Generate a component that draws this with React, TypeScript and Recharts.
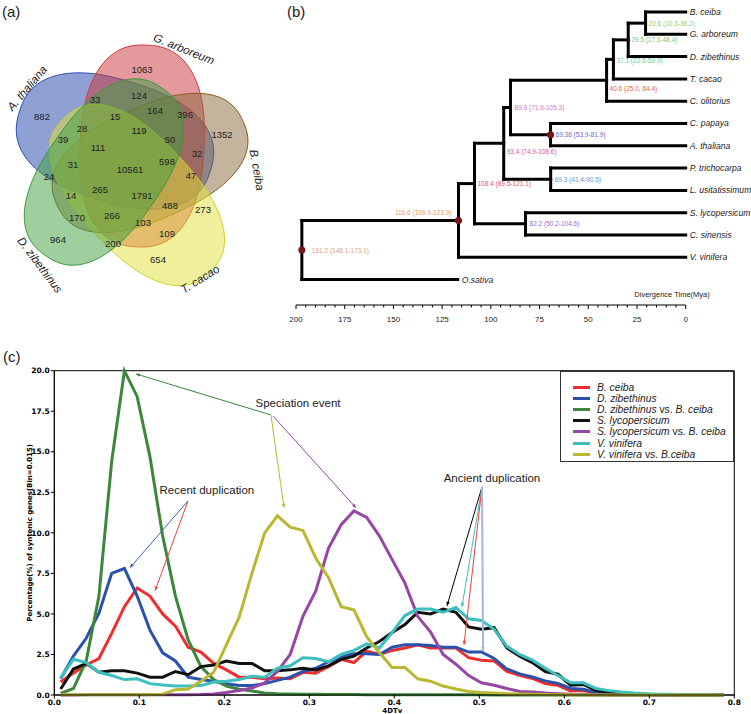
import React from "react";
import {
  LineChart,
  Line,
  XAxis,
  YAxis,
  ReferenceLine,
  ReferenceArea,
  ReferenceDot,
  ScatterChart,
  Scatter,
  ComposedChart,
  Label,
} from "recharts";

const FONT = "'Liberation Sans', Arial, sans-serif";

// ---------------- (a) Venn data ----------------
const vennSets = ["A. thaliana", "G. arboreum", "B. ceiba", "T. cacao", "D. zibethinus"];
const vennCounts = [
  1063, 33, 124, 882, 164, 396, 15, 39, 28, 119, 50, 1352, 111, 32, 31, 10561, 598, 47, 24, 14,
  265, 1791, 488, 273, 170, 266, 103, 109, 964, 200, 654,
];

// ---------------- (b) tree data ----------------
const leaves = [
  "B. ceiba",
  "G. arboreum",
  "D. zibethinus",
  "T. cacao",
  "C. olitorius",
  "C. papaya",
  "A. thaliana",
  "P. trichocarpa",
  "L. usitatissimum",
  "S. lycopersicum",
  "C. sinensis",
  "V. vinifera",
  "O.sativa",
];
const leafAges = [0, 0, 0, 0, 0, 0, 0, 0, 0, 0, 0, 0, 117];
const clades = [
  { id: "n1", age: 20.6, kids: ["B. ceiba", "G. arboreum"], label: "20.6 (10.3-36.2)" },
  { id: "n2", age: 29.5, kids: ["n1", "D. zibethinus"], label: "29.5 (17.1-48.4)" },
  { id: "n3", age: 37.1, kids: ["n2", "T. cacao"], label: "37.1 (22.6-59.9)" },
  { id: "n4", age: 40.6, kids: ["n3", "C. olitorius"], label: "40.6 (25.0, 64.4)" },
  { id: "n5", age: 69.36, kids: ["C. papaya", "A. thaliana"], label: "69.36 (53.9-81.9)" },
  { id: "n6", age: 89.9, kids: ["n4", "n5"], label: "89.9 (71.6-105.3)" },
  { id: "n7", age: 69.3, kids: ["P. trichocarpa", "L. usitatissimum"], label: "69.3 (41.4-90.5)" },
  { id: "n8", age: 93.4, kids: ["n6", "n7"], label: "93.4 (74.9-108.6)" },
  { id: "n9", age: 82.2, kids: ["S. lycopersicum", "C. sinensis"], label: "82.2 (50.2-104.6)" },
  { id: "n10", age: 108.4, kids: ["n8", "n9"], label: "108.4 (89.5-121.1)" },
  { id: "n11", age: 116.6, kids: ["n10", "V. vinifera"], label: "116.6 (109.9-123.9)" },
  { id: "root", age: 197, kids: ["n11", "O.sativa"], label: "161.2 (148.1-173.1)" },
];
const treeTicks = [
  200, 195, 190, 185, 180, 175, 170, 165, 160, 155, 150, 145, 140, 135, 130, 125, 120, 115, 110,
  105, 100, 95, 90, 85, 80, 75, 70, 65, 60, 55, 50, 45, 40, 35, 30, 25, 20, 15, 10, 5, 0,
];

// ---------------- (c) 4DTv data ----------------
const dtv = [
  0.0075, 0.0225, 0.0375, 0.0525, 0.0675, 0.0825, 0.0975, 0.1125, 0.1275, 0.1425, 0.1575, 0.1725,
  0.1875, 0.2025, 0.2175, 0.2325, 0.2475, 0.2625, 0.2775, 0.2925, 0.3075, 0.3225, 0.3375, 0.3525,
  0.3675, 0.3825, 0.3975, 0.4125, 0.4275, 0.4425, 0.4575, 0.4725, 0.4875, 0.5025, 0.5175, 0.5325,
  0.5475, 0.5625, 0.5775, 0.5925, 0.6075, 0.6225, 0.6375, 0.6525, 0.6675, 0.6825, 0.6975, 0.7125,
  0.7275, 0.7425, 0.7575, 0.7725, 0.7875,
];
const bCeiba = [
  0.8, 1.35, 1.85, 2.25, 3.8, 5.45, 6.6, 6.1, 5.0, 4.25, 2.95, 2.65, 1.95, 1.55, 1.1, 1.1, 1.0,
  1.05, 1.0, 1.4, 1.35, 1.75, 2.2, 2.0, 2.7, 2.5, 2.75, 2.9, 3.1, 2.9, 2.9, 2.9, 2.3, 2.15, 2.1,
  1.45, 1.22, 1.02, 0.7, 0.6, 0.25, 0.28, 0.12, 0.06, 0.03, 0.02, 0.01, 0, 0, 0, 0, 0, 0,
];
const dZib = [
  1.0, 2.4, 3.5, 5.05, 7.5, 7.8, 6.1, 4.0, 2.6, 2.1, 1.1, 0.95, 0.85, 0.7, 0.58, 0.58, 0.7, 0.9,
  1.1, 1.45, 1.65, 2.05, 2.35, 2.55, 2.55, 2.5, 2.95, 3.1, 3.1, 3.05, 2.95, 2.95, 2.65, 2.65, 2.25,
  1.6, 1.3, 1.12, 0.87, 0.72, 0.4, 0.35, 0.15, 0.08, 0.05, 0.03, 0.02, 0.01, 0, 0, 0, 0, 0,
];
const dZibVsBc = [
  0.1, 0.4, 2.1, 6.1, 14.4, 20.0, 18.4, 14.7, 9.8, 6.1, 3.4, 1.75, 0.95, 0.55, 0.35, 0.25, 0.12,
  0.08, 0.06, 0.05, 0.04, 0.03, 0.03, 0.03, 0.02, 0.02, 0.02, 0.02, 0.02, 0.01, 0.01, 0.01, 0.01,
  0.01, 0, 0, 0, 0, 0, 0, 0, 0, 0, 0, 0, 0, 0, 0, 0, 0, 0, 0, 0,
];
const sLyc = [
  0.37, 1.6, 1.95, 1.4, 1.5, 1.5, 1.35, 1.1, 1.1, 1.45, 1.25, 1.75, 1.85, 2.1, 1.95, 1.95, 1.5, 1.5,
  1.55, 1.65, 1.55, 1.8, 2.2, 2.4, 2.9, 3.3, 3.85, 4.35, 5.1, 5.0, 5.3, 5.1, 4.2, 4.05, 4.15, 2.9,
  2.4, 2.0, 1.45, 1.28, 0.6, 0.65, 0.27, 0.17, 0.12, 0.08, 0.04, 0.02, 0.01, 0, 0, 0, 0,
];
const sLycVsBc = [
  0, 0, 0.01, 0.01, 0.01, 0.01, 0.01, 0.01, 0.01, 0.01, 0.02, 0.03, 0.06, 0.16, 0.28, 0.43, 0.75,
  1.45, 2.5, 4.85, 6.4, 9.05, 10.5, 11.35, 10.95, 9.8, 8.35, 6.9, 4.85, 3.9, 2.5, 1.9, 1.2, 0.75,
  0.6, 0.4, 0.22, 0.18, 0.12, 0.08, 0.04, 0.02, 0.01, 0, 0, 0, 0, 0, 0, 0, 0, 0, 0,
];
const vVin = [
  1.05, 2.2, 2.0, 1.4, 1.2, 0.95, 1.0, 0.7, 0.62, 0.55, 0.55, 0.58, 0.8, 0.85, 0.95, 1.15, 1.1,
  1.65, 1.8, 2.3, 2.25, 2.05, 2.5, 2.75, 3.15, 2.9, 3.85, 4.9, 5.3, 5.3, 5.1, 5.4, 4.7, 4.6, 4.05,
  3.0, 2.5, 2.15, 1.65, 1.2, 0.75, 0.75, 0.4, 0.27, 0.18, 0.12, 0.08, 0.05, 0.04, 0.02, 0.01, 0.01, 0,
];
const vVinVsBc = [
  0.02, 0.02, 0.02, 0.02, 0.02, 0.02, 0.02, 0.02, 0.05, 0.33, 0.37, 0.85, 1.4, 3.1, 4.8, 7.5, 10.0,
  11.05, 10.35, 10.15, 8.45, 7.25, 5.45, 5.25, 3.6, 2.6, 1.7, 1.7, 1.0, 0.85, 0.55, 0.37, 0.22, 0.16,
  0.12, 0.08, 0.06, 0.04, 0.03, 0.02, 0.01, 0, 0, 0, 0, 0, 0, 0, 0, 0, 0, 0, 0,
];
const xTicks = [0, 0.1, 0.2, 0.3, 0.4, 0.5, 0.6, 0.7, 0.8];
const yTicks = [0, 2.5, 5, 7.5, 10, 12.5, 15, 17.5, 20];

const C_RED = "#ee2e2e";
const C_BLUE = "#2a52ad";
const C_GREEN = "#3c873c";
const C_BLACK = "#111111";
const C_PURPLE = "#9646a5";
const C_CYAN = "#3cbfbf";
const C_OLIVE = "#b8b832";

const series = [
  { key: "bc", values: bCeiba, color: C_RED, name: [["B. ceiba", true]] },
  { key: "dz", values: dZib, color: C_BLUE, name: [["D. zibethinus", true]] },
  { key: "dzbc", values: dZibVsBc, color: C_GREEN, name: [["D. zibethinus", true], [" vs. ", false], ["B. ceiba", true]] },
  { key: "sl", values: sLyc, color: C_BLACK, name: [["S. lycopersicum", true]] },
  { key: "slbc", values: sLycVsBc, color: C_PURPLE, name: [["S. lycopersicum", true], [" vs. ", false], ["B. ceiba", true]] },
  { key: "vv", values: vVin, color: C_CYAN, name: [["V. vinifera", true]] },
  { key: "vvbc", values: vVinVsBc, color: C_OLIVE, name: [["V. vinifera", true], [" vs. ", false], ["B.ceiba", true]] },
];

const dtvData = dtv.map((x, i) => {
  const row: any = { x };
  series.forEach((s) => (row[s.key] = s.values[i]));
  return row;
});

// annotations in data units of panel (c)
const notes = [
  { text: "Speciation event", x: 0.2867, y: 18.0 },
  { text: "Recent duplication", x: 0.1795, y: 12.65 },
  { text: "Ancient duplication", x: 0.5149, y: 13.39 },
];
const arrows = [
  { from: [0.2549, 17.27], to: [0.0961, 19.8], color: C_GREEN, w: 1 },
  { from: [0.2549, 17.27], to: [0.2702, 11.55], color: C_OLIVE, w: 1 },
  { from: [0.2573, 17.2], to: [0.3549, 11.55], color: C_PURPLE, w: 1 },
  { from: [0.1573, 11.97], to: [0.0891, 7.85], color: "#3a62c0", w: 1 },
  { from: [0.1573, 11.97], to: [0.1185, 6.43], color: "#f04040", w: 1 },
  { from: [0.5032, 12.84], to: [0.462, 5.5], color: "#000", w: 1 },
  { from: [0.5032, 12.84], to: [0.4796, 5.44], color: C_CYAN, w: 1 },
  { from: [0.5032, 12.84], to: [0.482, 3.1], color: "#f04040", w: 1 },
  { from: [0.5032, 12.84], to: [0.5044, 2.73], color: "#a3b5e0", w: 2 },
];

// ---------------- layout / styles ----------------
const petalLayout = [
  { cx: 115, cy: 141, a: 100, b: 61, rot: 17, fill: "#1f43a6", stroke: "#2b4db0" },
  { cx: 142, cy: 146, a: 101, b: 62, rot: 93, fill: "#c9343a", stroke: "#d43a3a" },
  { cx: 150, cy: 163, a: 102, b: 56, rot: -24, fill: "#8c6a3c", stroke: "#8b5a1e" },
  { cx: 137, cy: 195, a: 106, b: 57, rot: 47, fill: "#e2e23a", stroke: "#d0d02a" },
  { cx: 104, cy: 172, a: 102, b: 58, rot: -55, fill: "#3f9f3f", stroke: "#3a9a3a" },
];
const setLabelLayout = [
  { x: 27, y: 88, rot: -50 },
  { x: 184, y: 49, rot: 22 },
  { x: 257, y: 170, rot: 80 },
  { x: 200, y: 279, rot: -32 },
  { x: 40, y: 265, rot: 53 },
];
const countLayout = [
  [142, 69], [95, 99], [139, 95], [42, 116], [155, 110], [185, 114], [115, 116], [63, 139],
  [82, 128], [139, 130], [170, 139], [222, 134], [98, 147], [197, 153], [73, 164], [130, 169],
  [167, 161], [191, 175], [49, 176], [71, 195], [100, 189], [142, 195], [170, 205], [203, 209],
  [77, 217], [112, 215], [143, 222], [167, 233], [58, 239], [113, 243], [158, 259],
];

const nodeStyle: Record<string, any> = {
  n1: { color: "#8ccf6b", dy: 0, dx: 3 },
  n2: { color: "#78c86e", dy: 0, dx: 3 },
  n3: { color: "#6acb93", dy: 0.05, dx: 3 },
  n4: { color: "#e2633c", dy: 0.35, dx: 3 },
  n5: { color: "#6c6cd2", dy: 0, dx: 5, dot: true },
  n6: { color: "#c77ac7", dy: 0, dx: 4 },
  n7: { color: "#5b9ad6", dy: 0, dx: 4 },
  n8: { color: "#d5589c", dy: 0.35, dx: 3 },
  n9: { color: "#8b6fd2", dy: 0, dx: 4 },
  n10: { color: "#e0596a", dy: 0, dx: 3 },
  n11: { color: "#dc9c62", dy: -0.35, dx: -7, left: true, dot: true },
  root: { color: "#d9a57a", dy: 0, dx: 10, dot: true },
};

// ---------------- tree geometry ----------------
const yOf: Record<string, number> = {};
const ageOf: Record<string, number> = {};
leaves.forEach((n, i) => {
  yOf[n] = i;
  ageOf[n] = leafAges[i];
});
clades.forEach((c) => {
  yOf[c.id] = c.kids.reduce((s, k) => s + yOf[k], 0) / c.kids.length;
  ageOf[c.id] = c.age;
});
const branches: { x1: number; y1: number; x2: number; y2: number }[] = [];
clades.forEach((c) => {
  const ys = c.kids.map((k) => yOf[k]);
  branches.push({ x1: c.age, y1: Math.min(...ys), x2: c.age, y2: Math.max(...ys) });
  c.kids.forEach((k) => branches.push({ x1: c.age, y1: yOf[k], x2: ageOf[k], y2: yOf[k] }));
});
const leafPoints = leaves.map((name, i) => ({ x: leafAges[i], y: i, name }));
const nodeLabels = clades.map((c) => ({ x: c.age, y: yOf[c.id] + nodeStyle[c.id].dy, id: c.id, label: c.label }));
const nodeDots = clades.filter((c) => nodeStyle[c.id].dot).map((c) => ({ x: c.age, y: yOf[c.id] }));

// ---------------- helpers ----------------
function petalPath(cx: number, cy: number, a: number, b: number, rot: number) {
  const n = 2.4;
  const r = (rot * Math.PI) / 180;
  const pts: string[] = [];
  for (let k = 0; k < 120; k++) {
    const t = (k / 120) * Math.PI * 2;
    const c = Math.cos(t);
    const s = Math.sin(t);
    const px = a * Math.sign(c) * Math.pow(Math.abs(c), 2 / n);
    const py = b * Math.sign(s) * Math.pow(Math.abs(s), 2 / n);
    pts.push(`${cx + px * Math.cos(r) - py * Math.sin(r)},${cy + px * Math.sin(r) + py * Math.cos(r)}`);
  }
  return "M" + pts.join("L") + "Z";
}

const ArrowShape = (props: any) => {
  const { x1, y1, x2, y2, stroke, strokeWidth } = props;
  const ang = Math.atan2(y2 - y1, x2 - x1);
  const L = 4;
  const W = 1.8;
  const bx = x2 - L * Math.cos(ang);
  const by = y2 - L * Math.sin(ang);
  const pts = `${x2},${y2} ${bx - W * Math.sin(ang)},${by + W * Math.cos(ang)} ${bx + W * Math.sin(ang)},${by - W * Math.cos(ang)}`;
  return (
    <g>
      <line x1={x1} y1={y1} x2={x2} y2={y2} stroke={stroke} strokeWidth={strokeWidth} />
      <polygon points={pts} fill={stroke} />
    </g>
  );
};

const TreeTick = (props: any) => {
  const { x, y, payload } = props;
  const major = payload.value % 25 === 0;
  return (
    <g>
      <line x1={x} x2={x} y1={y} y2={y + (major ? 4 : 2.5)} stroke="#000" strokeWidth={1} />
      {major && (
        <text x={x} y={y + 17} textAnchor="middle" fontSize={8} fontFamily={FONT} fill="#222">
          {payload.value}
        </text>
      )}
    </g>
  );
};

const boldTick = { fontSize: 7.5, fontWeight: "bold", fill: "#000", fontFamily: "'DejaVu Sans', sans-serif" };

function VennPanel() {
  const petals = petalLayout.map((p, i) => ({ x: p.cx, y: p.cy, i }));
  const counts = vennCounts.map((v, i) => ({ x: countLayout[i][0], y: countLayout[i][1], v }));
  const names = vennSets.map((name, i) => ({ x: setLabelLayout[i].x, y: setLabelLayout[i].y, name, i }));
  return (
    <ScatterChart width={290} height={300} margin={{ top: 0, right: 0, bottom: 0, left: 0 }}>
      <XAxis type="number" dataKey="x" domain={[0, 290]} hide />
      <YAxis type="number" dataKey="y" domain={[0, 300]} reversed hide />
      <Scatter
        data={petals}
        isAnimationActive={false}
        shape={(p: any) => {
          const s = petalLayout[p.payload.i];
          return (
            <path
              d={petalPath(p.cx, p.cy, s.a, s.b, s.rot)}
              fill={s.fill}
              fillOpacity={0.5}
              stroke={s.stroke}
              strokeWidth={1}
            />
          );
        }}
      />
      <Scatter
        data={counts}
        isAnimationActive={false}
        shape={(p: any) => (
          <text x={p.cx} y={p.cy} textAnchor="middle" dominantBaseline="central" fontSize={9.5} fontFamily={FONT} fill="#222">
            {p.payload.v}
          </text>
        )}
      />
      <Scatter
        data={names}
        isAnimationActive={false}
        shape={(p: any) => (
          <text
            x={p.cx}
            y={p.cy}
            transform={`rotate(${setLabelLayout[p.payload.i].rot}, ${p.cx}, ${p.cy})`}
            textAnchor="middle"
            dominantBaseline="central"
            fontSize={11.5}
            fontStyle="italic"
            fontFamily={FONT}
            fill="#222"
          >
            {p.payload.name}
          </text>
        )}
      />
    </ScatterChart>
  );
}

function TreePanel() {
  return (
    <ComposedChart width={471} height={330} margin={{ top: 12, right: 65.3, bottom: 0, left: 16 }}>
      <XAxis
        type="number"
        dataKey="x"
        domain={[0, 200]}
        reversed
        ticks={treeTicks}
        interval={0}
        tick={<TreeTick />}
        tickLine={false}
        tickSize={0}
        tickMargin={0}
        height={25}
        stroke="#000"
      />
      <YAxis type="number" dataKey="y" domain={[0, 13.14]} reversed hide />
      {branches.map((b, i) => (
        <ReferenceLine
          key={`br-${i}`}
          segment={[{ x: b.x1, y: b.y1 }, { x: b.x2, y: b.y2 }]}
          stroke="#000"
          strokeWidth={3}
          strokeLinecap="square"
          ifOverflow="visible"
        />
      ))}
      <Scatter
        data={nodeDots}
        isAnimationActive={false}
        shape={(p: any) => <circle cx={p.cx} cy={p.cy} r={3.5} fill="#7b1515" />}
      />
      <Scatter
        data={leafPoints}
        isAnimationActive={false}
        shape={(p: any) => (
          <text x={p.cx + 4} y={p.cy} dominantBaseline="central" fontSize={8.6} fontStyle="italic" fontFamily={FONT} fill="#222">
            {p.payload.name}
          </text>
        )}
      />
      <Scatter
        data={nodeLabels}
        isAnimationActive={false}
        shape={(p: any) => {
          const st = nodeStyle[p.payload.id];
          return (
            <text
              x={p.cx + st.dx}
              y={p.cy}
              textAnchor={st.left ? "end" : "start"}
              dominantBaseline="central"
              fontSize={6.5}
              fontFamily={FONT}
              fill={st.color}
            >
              {p.payload.label}
            </text>
          );
        }}
      />
      <ReferenceDot
        x={7}
        y={12.65}
        r={0}
        ifOverflow="visible"
        shape={(p: any) => (
          <text x={p.cx} y={p.cy} textAnchor="middle" dominantBaseline="central" fontSize={7.5} fontFamily={FONT} fill="#222">
            Divergence Time(Mya)
          </text>
        )}
      />
    </ComposedChart>
  );
}

function KsPanel() {
  return (
    <LineChart width={751} height={374} data={dtvData} margin={{ top: 30.7, right: 16.7, bottom: 0, left: 0 }}>
      <XAxis
        type="number"
        dataKey="x"
        domain={[0, 0.8]}
        ticks={xTicks}
        interval={0}
        tickFormatter={(v: number) => v.toFixed(1)}
        height={19}
        tickSize={3.5}
        tickMargin={1.5}
        tick={boldTick}
        stroke="#000"
      >
        <Label
          content={(p: any) => (
            <text x={p.viewBox.x + p.viewBox.width / 2 - 2} y={p.viewBox.y + 17.5} textAnchor="middle" fontSize={7} fontWeight="bold" fontFamily="'DejaVu Sans', sans-serif">
              4DTv
            </text>
          )}
        />
      </XAxis>
      <YAxis
        type="number"
        domain={[0, 20]}
        ticks={yTicks}
        interval={0}
        tickFormatter={(v: number) => v.toFixed(1)}
        width={54.3}
        tickSize={3.5}
        tickMargin={1}
        tick={boldTick}
        stroke="#000"
      >
        <Label
          content={(p: any) => {
            const cy = p.viewBox.y + p.viewBox.height / 2;
            return (
              <text
                x={30}
                y={cy}
                transform={`rotate(-90, 30, ${cy})`}
                textAnchor="middle"
                dominantBaseline="central"
                fontSize={7}
                fontWeight="bold"
                fontFamily="'DejaVu Sans', sans-serif"
              >
                Percentage(%) of syntenic genes(Bin=0.015)
              </text>
            );
          }}
        />
      </YAxis>
      <ReferenceArea x1={0} x2={0.8} y1={0} y2={20} fill="none" stroke="#000" strokeWidth={1} />
      {series.map((s) => (
        <Line
          key={s.key}
          dataKey={s.key}
          stroke={s.color}
          strokeWidth={3}
          dot={false}
          isAnimationActive={false}
          strokeLinejoin="miter"
        />
      ))}
      {arrows.map((a, i) => (
        <ReferenceLine
          key={`ar-${i}`}
          segment={[{ x: a.from[0], y: a.from[1] }, { x: a.to[0], y: a.to[1] }]}
          stroke={a.color}
          strokeWidth={a.w}
          ifOverflow="visible"
          shape={ArrowShape}
        />
      ))}
      {notes.map((n) => (
        <ReferenceDot
          key={n.text}
          x={n.x}
          y={n.y}
          r={0}
          ifOverflow="visible"
          shape={(p: any) => (
            <text x={p.cx} y={p.cy} textAnchor="middle" dominantBaseline="central" fontSize={11.5} fontFamily={FONT} fill="#222">
              {n.text}
            </text>
          )}
        />
      ))}
    </LineChart>
  );
}

function KsLegend() {
  return (
    <div
      style={{
        position: "absolute",
        left: 560,
        top: 371,
        width: 174,
        height: 91,
        border: "1px solid #333",
        boxSizing: "border-box",
        paddingTop: 10,
        paddingLeft: 12,
        fontFamily: FONT,
        fontSize: 10.3,
        color: "#222",
        background: "#fff",
        overflow: "hidden",
      }}
    >
      {series.map((s) => (
        <div key={s.key} style={{ display: "flex", alignItems: "center", height: 11.1, whiteSpace: "nowrap" }}>
          <span style={{ display: "inline-block", width: 17, height: 3, background: s.color, marginRight: 7, flex: "none" }} />
          <span>
            {s.name.map(([t, it], j) => (
              <span key={j} style={{ fontStyle: it ? "italic" : "normal", whiteSpace: "pre" }}>
                {t as string}
              </span>
            ))}
          </span>
        </div>
      ))}
    </div>
  );
}

export default function App() {
  const tag = { position: "absolute" as const, fontFamily: FONT, fontSize: 15, color: "#222", lineHeight: "15px" };
  return (
    <div style={{ position: "absolute", left: 0, top: 0, width: 751, height: 714, background: "#fff", overflow: "hidden" }}>
      <div style={{ position: "absolute", left: 0, top: 0 }}>
        <VennPanel />
      </div>
      <div style={{ position: "absolute", left: 280, top: 0 }}>
        <TreePanel />
      </div>
      <div style={{ position: "absolute", left: 0, top: 340 }}>
        <KsPanel />
      </div>
      <KsLegend />
      <div style={{ ...tag, left: 2, top: 4 }}>(a)</div>
      <div style={{ ...tag, left: 287, top: 4 }}>(b)</div>
      <div style={{ ...tag, left: 3, top: 349 }}>(c)</div>
    </div>
  );
}
